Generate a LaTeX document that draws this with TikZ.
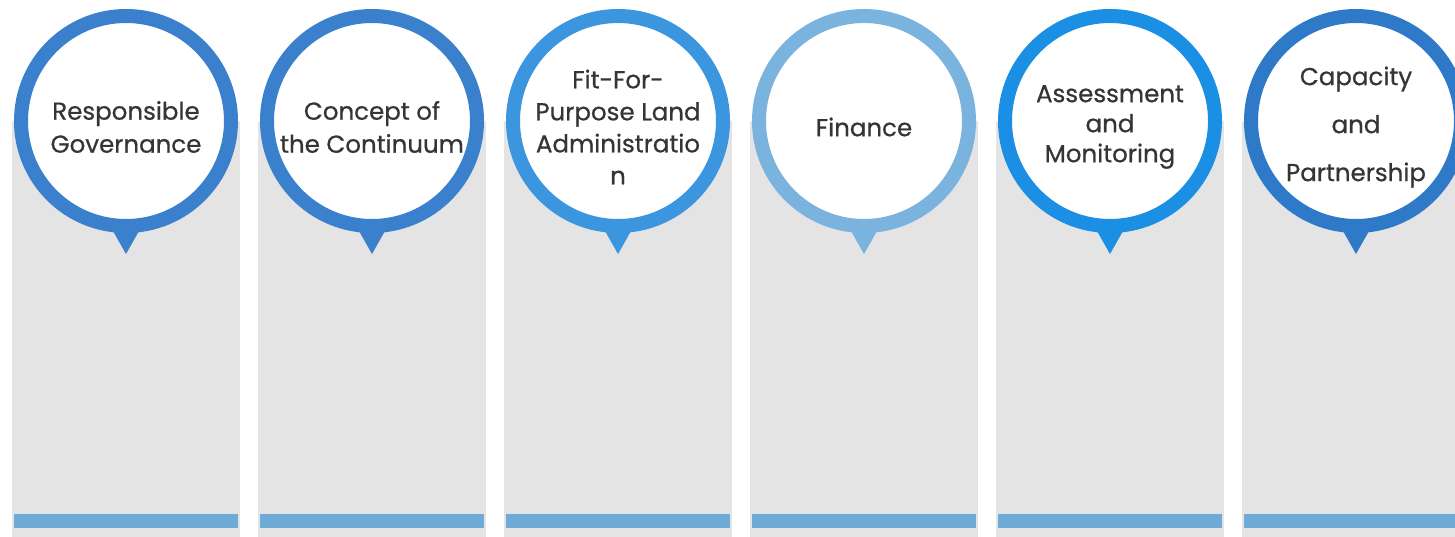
\documentclass[tikz,border=0pt]{standalone}
\usepackage{fontspec}
\setmainfont{Poppins}
\newfontfamily\labelfont{Poppins}[FakeBold=0.6]
\definecolor{greycol}{HTML}{E4E4E4}
\definecolor{barcol}{HTML}{6EABD7}
\definecolor{txtcol}{HTML}{353535}
\definecolor{cA}{HTML}{3A80CC}
\definecolor{cB}{HTML}{3A80CC}
\definecolor{cC}{HTML}{3B96DF}
\definecolor{cD}{HTML}{7AB3DD}
\definecolor{cE}{HTML}{1B8FE3}
\definecolor{cF}{HTML}{2E79C8}
\tikzset{
  colbox/.style={fill=greycol, draw=none},
  barbox/.style={fill=barcol, draw=none},
  ring/.style={circle, fill=white, draw=#1, line width=14pt, minimum size=210pt, inner sep=0pt},
  pointer/.style={fill=#1, draw=none},
  label/.style={text=txtcol, align=center}
}
\begin{document}
\begin{tikzpicture}[x=1pt,y=-1pt]
\useasboundingbox (0,0) rectangle (1455,537);
\fill[white] (0,0) rectangle (1455,537);
\foreach \i/\col/\txt/\ls in {
  0/cA/{Responsible\\Governance}/33,
  1/cB/{Concept of\\the Continuum}/33,
  2/cC/{Fit-For-\\Purpose Land\\Administratio\\n}/32,
  3/cD/{Finance}/32,
  4/cE/{Assessment\\and\\Monitoring}/30,
  5/cF/{Capacity\\and\\Partnership}/48}{
  \pgfmathsetmacro{\cx}{126+246*\i}
  \fill[colbox] (\cx-114,121) rectangle (\cx+114,537);
  \fill[barbox] (\cx-112,514) rectangle (\cx+112,528);
  \fill[pointer=\col] (\cx-17,224) -- (\cx,254) -- (\cx+17,224) -- cycle;
  \node[ring=\col] (c\i) at (\cx,121) {};
  \node[label, font=\labelfont\fontsize{24.5}{\ls}\selectfont] (t\i) at ([yshift=-6pt]c\i.center) {\txt};
}
\end{tikzpicture}
\end{document}
